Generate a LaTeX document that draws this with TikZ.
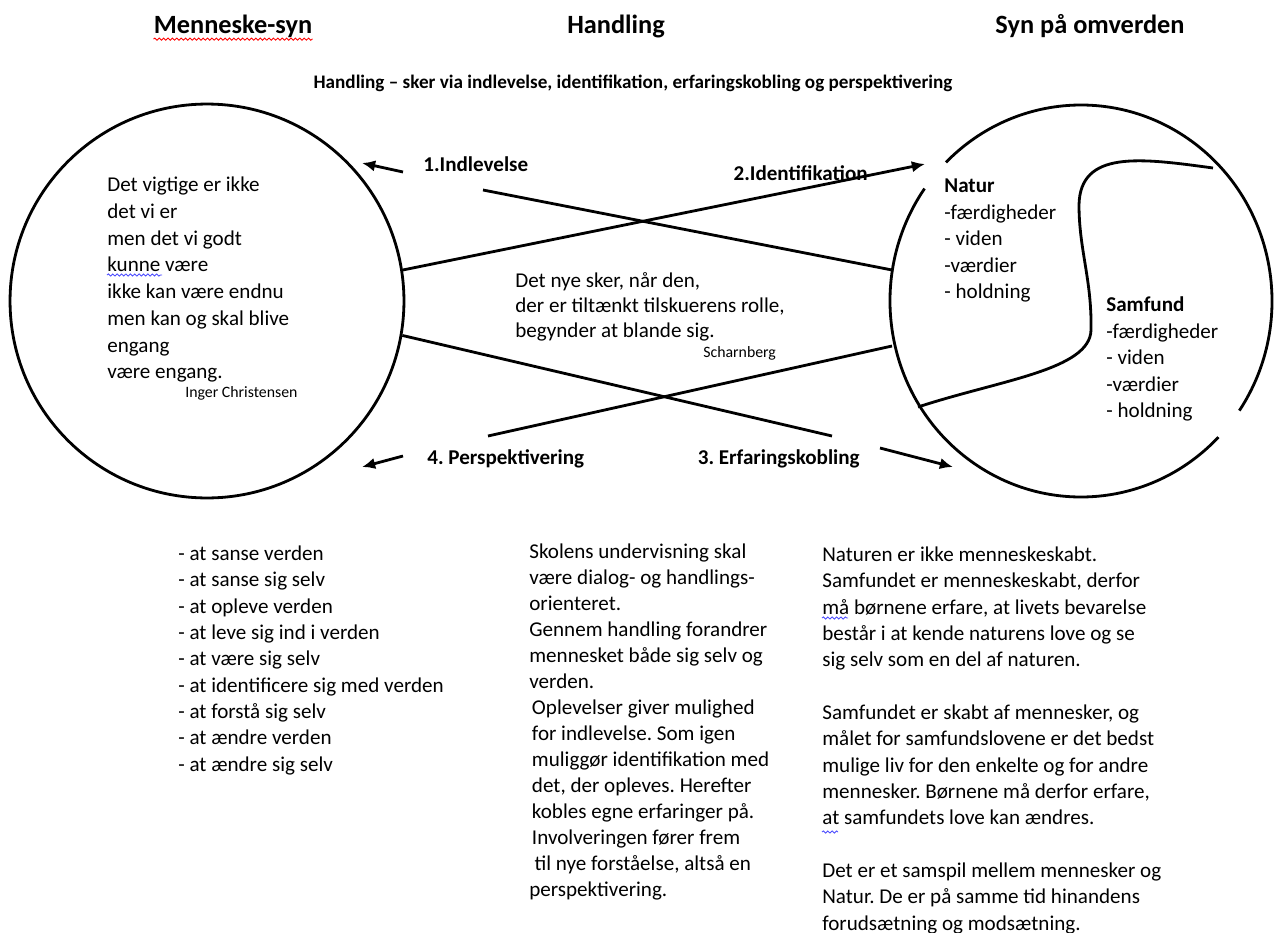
\documentclass[tikz,border=0pt]{standalone}
\usepackage{fontspec}
\setmainfont{Carlito}
\usetikzlibrary{arrows.meta}
\usetikzlibrary{decorations.pathmorphing}
\frenchspacing

\begin{document}
\begin{tikzpicture}[x=0.02cm,y=0.02cm,
  linje/.style={line width=1.6pt},
  pil/.style={line width=1.6pt,-{Latex[length=7.5pt,width=6.5pt]}},
  overskrift/.style={font=\fontsize{15}{18}\selectfont\bfseries,inner sep=0pt,anchor=base},
  etiket/.style={font=\fontsize{12}{15}\selectfont\bfseries,inner sep=0pt},
  tekst/.style={font=\fontsize{12}{15}\selectfont,align=left,inner sep=0pt,anchor=north west},
  lille/.style={font=\fontsize{9}{11}\selectfont,inner sep=0pt,anchor=base west},
  kruset/.style={decorate,decoration={snake,amplitude=0.6pt,segment length=2.5pt},line width=0.5pt}]

\useasboundingbox (0,0) rectangle (1275,-933);

% overskrifter
\node[overskrift] (hMenneske) at (233,-33) {Menneske-syn};
\node[overskrift] (hHandling) at (616,-33) {Handling};
\node[overskrift] (hOmverden) at (1090,-33) {Syn på omverden};
\node[font=\fontsize{10.9}{13}\selectfont\bfseries,inner sep=0pt,anchor=base] (undertitel) at (633,-88)
  {Handling – sker via indlevelse, identifikation, erfaringskobling og perspektivering};
\draw[kruset,red] ([yshift=-3.5pt]hMenneske.base west) -- ([yshift=-3.5pt]hMenneske.base east);

% venstre cirkel
\node[draw,circle,linje,minimum size=7.88cm,inner sep=0pt] (menneske) at (207,-301) {};
\node[tekst,font=\fontsize{12}{15.2}\selectfont] (digt) at (107,-173) {\rule{0pt}{10.5pt}Det vigtige er ikke\\det vi er\\men det vi godt\\kunne være\\ikke kan være endnu\\men kan og skal blive\\engang\\være engang.};
\node[lille] (digter) at (185,-397) {Inger Christensen};
\draw[kruset,blue!70] (107,-275) -- (162,-275);

% hoejre cirkel
\coordinate (omverden) at (1081,-301);
\draw[linje] (omverden) ++(145:191 and 196) arc[start angle=145,end angle=316,x radius=191,y radius=196];
\draw[linje] (omverden) ++(-34:191 and 196) arc[start angle=-34,end angle=135,x radius=191,y radius=196];
\draw[linje] (1213,-168) .. controls (1140,-158) and (1080,-150) .. (1079,-205)
  .. controls (1079,-250) and (1092,-280) .. (1091,-330)
  .. controls (1090,-370) and (1000,-380) .. (918,-407);
\node[tekst,font=\fontsize{12}{15.1}\selectfont] (natur) at (944,-174) {\rule{0pt}{10.5pt}\textbf{Natur}\\-færdigheder\\- viden\\-værdier\\- holdning};
\node[tekst,font=\fontsize{12}{15.1}\selectfont] (samfund) at (1106,-293) {\rule{0pt}{10.5pt}\textbf{Samfund}\\-færdigheder\\- viden\\-værdier\\- holdning};

% midten
\node[tekst,font=\fontsize{12}{14.2}\selectfont] (citat) at (515,-268.5) {\rule{0pt}{10.5pt}Det nye sker, når den,\\der er tiltænkt tilskuerens rolle,\\begynder at blande sig.};
\node[lille] (scharnberg) at (703,-357) {Scharnberg};

\node[etiket,anchor=base west] (indlevelse) at (423,-171) {1.Indlevelse};
\node[etiket,anchor=base east] (identifikation) at (868,-180) {2.Identifikation};
\node[etiket,anchor=base west] (perspektiv) at (427,-464) {4. Perspektivering};
\node[etiket,anchor=base east] (erfaring) at (860,-464) {3. Erfaringskobling};

\coordinate (idSpids) at (925,-164);
\coordinate (indStart) at (483,-190);
\coordinate (indSlut) at (892,-270);
\coordinate (perStart) at (488,-436);
\coordinate (perSlut) at (892,-346);
\coordinate (erfSlut) at (832,-436);
\coordinate (p1a) at (403,-172);
\coordinate (p1b) at (362,-163);
\coordinate (p3a) at (880,-448);
\coordinate (p3b) at (953,-467);
\coordinate (p4a) at (403,-456);
\coordinate (p4b) at (362,-467);

\draw[pil] (menneske.9) -- (idSpids);
\draw[linje] (indStart) -- (indSlut);
\draw[linje] (menneske.-10) -- (erfSlut);
\draw[linje] (perStart) -- (perSlut);
\draw[pil] (p1a) -- (p1b);
\draw[pil] (p3a) -- (p3b);
\draw[pil] (p4a) -- (p4b);

% tekst forneden
\node[tekst] (liste) at (178,-541.5) {\rule{0pt}{10.5pt}- at sanse verden\\- at sanse sig selv\\- at opleve verden\\- at leve sig ind i verden\\- at være sig selv\\- at identificere sig med verden\\- at forstå sig selv\\- at ændre verden\\- at ændre sig selv};
\node[tekst,font=\fontsize{12}{14.8}\selectfont] (skolen) at (529,-540) {\rule{0pt}{10.5pt}Skolens undervisning skal\\være dialog- og handlings-\\orienteret.\\Gennem handling forandrer\\mennesket både sig selv og\\verden.\\
\hspace*{1.5pt}Oplevelser giver mulighed\\\hspace*{1.5pt}for indlevelse. Som igen\\\hspace*{1.5pt}muliggør identifikation med\\\hspace*{1.5pt}det, der opleves. Herefter\\\hspace*{1.5pt}kobles egne erfaringer på.\\\hspace*{1.5pt}Involveringen fører frem\\\hspace*{3pt}til nye forståelse, altså en\\perspektivering.};
\node[tekst] (naturen) at (822,-542.5) {\rule{0pt}{10.5pt}Naturen er ikke menneskeskabt.\\Samfundet er menneskeskabt, derfor\\må børnene erfare, at livets bevarelse\\består i at kende naturens love og se\\sig selv som en del af naturen.\\[15pt]
Samfundet er skabt af mennesker, og\\målet for samfundslovene er det bedst\\mulige liv for den enkelte og for andre\\mennesker. Børnene må derfor erfare,\\at samfundets love kan ændres.\\[15pt]
Det er et samspil mellem mennesker og\\Natur. De er på samme tid hinandens\\forudsætning og modsætning.};
\draw[kruset,blue!70] (822,-618) -- (848,-618);
\draw[kruset,blue!70] (822,-832) -- (838,-832);
\end{tikzpicture}
\end{document}
